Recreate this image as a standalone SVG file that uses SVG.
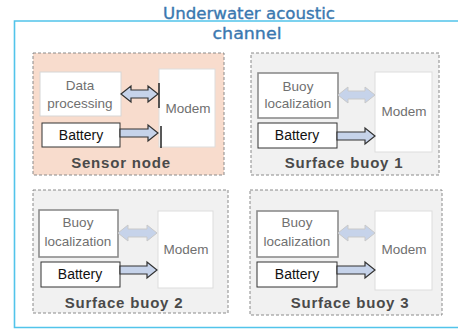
<svg xmlns="http://www.w3.org/2000/svg" width="458" height="333" viewBox="0 0 458 333">
<style>
.frame{fill:none;stroke:#52c4ea;stroke-width:1.6}
.title{font-family:"DejaVu Sans",sans-serif;font-size:15.5px;fill:#3a78b0;stroke:#3a78b0;stroke-width:0.35;text-anchor:middle}
.node{stroke:#8a8a8a;stroke-width:1;stroke-dasharray:3 2}
.sensor{fill:#f8dccd}
.buoy{fill:#f1f1f1}
.inner{fill:#ffffff;stroke:#d6d6d6;stroke-width:1}
.loc{fill:#ffffff;stroke:#8c8c8c;stroke-width:1.6}
.bat{fill:#ffffff;stroke:#333;stroke-width:1}
.modem{fill:#ffffff;stroke:#dddddd;stroke-width:1}
.t{font-family:"Liberation Sans",Arial,sans-serif;font-size:13.5px;fill:#707070;text-anchor:middle}
.tb{font-family:"Liberation Sans",Arial,sans-serif;font-size:14px;fill:#111;text-anchor:middle}
.nt{font-family:"Liberation Sans",Arial,sans-serif;font-size:15px;font-weight:bold;fill:#4a4a4a;text-anchor:middle;letter-spacing:0.8px}
.arr{fill:#c6d3ea;stroke:#333;stroke-width:1.2}
.arrf{fill:#c6d3ea;stroke:#c9c9c9;stroke-width:1}
.bar{stroke:#222;stroke-width:1.5}
</style>
<g id="channel">
<path class="frame" d="M460 21 H14.5 V327.5 H460"/>
<text class="title" x="249" y="19" textLength="172" lengthAdjust="spacingAndGlyphs">Underwater acoustic</text>
<text class="title" x="247" y="39" textLength="69" lengthAdjust="spacingAndGlyphs">channel</text>
</g>
<g id="sensor-node">
<rect class="node sensor" x="33" y="53" width="191" height="122"/>
<rect class="inner" x="40" y="72" width="81" height="44"/>
<text class="t" x="80" y="90">Data</text>
<text class="t" x="80" y="108">processing</text>
<rect class="bat" x="42" y="123" width="78" height="24"/>
<text class="tb" x="81" y="140">Battery</text>
<rect class="modem" x="159" y="69" width="56" height="78"/>
<text class="t" x="188" y="113">Modem</text>
<text class="nt" x="121" y="168">Sensor node</text>
</g>
<g id="surface-buoy-1">
<rect class="node buoy" x="251" y="53" width="188" height="122"/>
<rect class="loc" x="258" y="73" width="80" height="45"/>
<text class="t" x="298" y="91">Buoy</text>
<text class="t" x="298" y="108">localization</text>
<rect class="bat" x="258" y="123" width="79" height="25"/>
<text class="tb" x="297" y="140">Battery</text>
<rect class="modem" x="375" y="72" width="57" height="80"/>
<text class="t" x="404" y="116">Modem</text>
<text class="nt" x="344" y="168">Surface buoy 1</text>
</g>
<g id="surface-buoy-2">
<rect class="node buoy" x="33" y="190" width="195" height="123"/>
<rect class="loc" x="39" y="210" width="79" height="47"/>
<text class="t" x="78" y="227">Buoy</text>
<text class="t" x="78" y="246">localization</text>
<rect class="bat" x="41" y="262" width="79" height="25"/>
<text class="tb" x="80" y="279">Battery</text>
<rect class="modem" x="158" y="211" width="55" height="77"/>
<text class="t" x="186" y="254">Modem</text>
<text class="nt" x="124" y="308">Surface buoy 2</text>
</g>
<g id="surface-buoy-3">
<rect class="node buoy" x="250" y="190" width="192" height="125"/>
<rect class="loc" x="257" y="211" width="81" height="46"/>
<text class="t" x="297" y="227">Buoy</text>
<text class="t" x="297" y="246">localization</text>
<rect class="bat" x="257" y="262" width="80" height="25"/>
<text class="tb" x="297" y="279">Battery</text>
<rect class="modem" x="375" y="211" width="57" height="79"/>
<text class="t" x="404" y="254">Modem</text>
<text class="nt" x="350" y="308">Surface buoy 3</text>
</g>
<g id="connectors">
<path class="arr" d="M121 94 L131 86 L131 90 L148 90 L148 86 L158 94 L148 102 L148 98 L131 98 L131 102 Z"/>
<path class="arr" d="M120 129 L148 129 L148 125 L158 133 L148 141 L148 137 L120 137 Z"/>
<line class="bar" x1="159" y1="83" x2="159" y2="108"/>
<line class="bar" x1="161" y1="126" x2="161" y2="148"/>
<path class="arrf" d="M338 95 L348 87 L348 91 L365 91 L365 87 L375 95 L365 103 L365 99 L348 99 L348 103 Z"/>
<path class="arr" d="M337 132 L365 132 L365 128 L375 136 L365 144 L365 140 L337 140 Z"/>
<path class="arrf" d="M118 233 L128 225 L128 229 L147 229 L147 225 L157 233 L147 241 L147 237 L128 237 L128 241 Z"/>
<path class="arr" d="M120 266 L147 266 L147 262 L157 270 L147 278 L147 274 L120 274 Z"/>
<path class="arrf" d="M338 233 L348 225 L348 229 L365 229 L365 225 L375 233 L365 241 L365 237 L348 237 L348 241 Z"/>
<path class="arr" d="M337 266 L365 266 L365 262 L375 270 L365 278 L365 274 L337 274 Z"/>
</g>
</svg>
